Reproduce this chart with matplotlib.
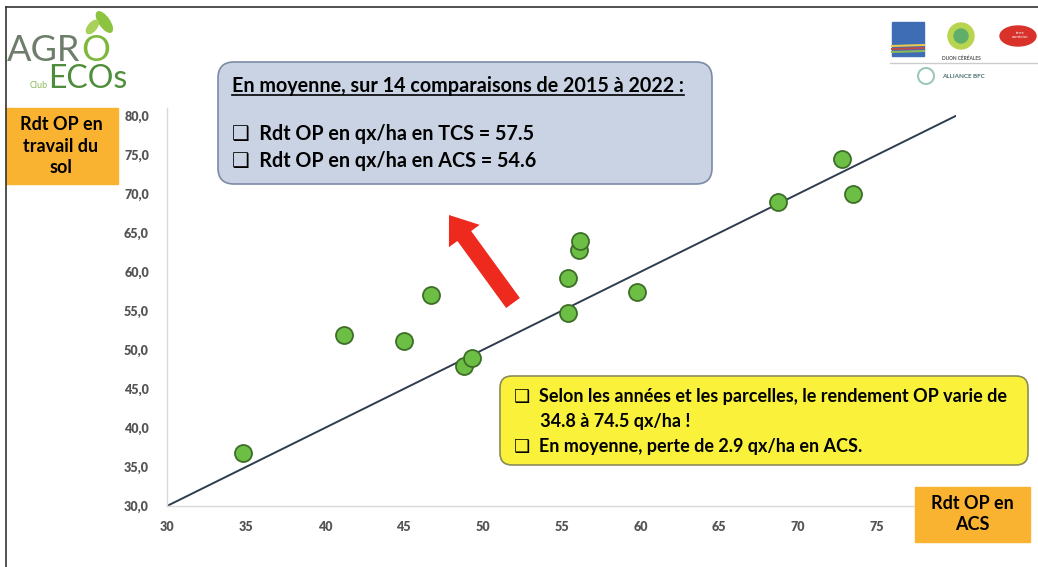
import matplotlib.pyplot as plt
import numpy as np
from matplotlib.patches import FancyBboxPatch, FancyArrow, Ellipse, Circle, Rectangle

plt.rcParams['font.family'] = ['Lato', 'DejaVu Sans']

# Rendement orge de printemps (qx/ha) : ACS en x, travail du sol (TCS) en y
rdt_acs = [34.8, 41.2, 45.0, 46.7, 48.8, 49.3, 55.4, 55.4, 56.1, 56.2, 59.8, 68.7, 72.8, 73.5]
rdt_tcs = [36.8, 51.9, 51.2, 57.0, 47.9, 49.0, 54.7, 59.2, 62.8, 64.0, 57.4, 69.0, 74.5, 70.0]

x_ticks = [30, 35, 40, 45, 50, 55, 60, 65, 70, 75]
y_ticks = [30, 35, 40, 45, 50, 55, 60, 65, 70, 75, 80]
bissectrice = [30, 80]

titre = "En moyenne, sur 14 comparaisons de 2015 à 2022 :"
moyennes = ["❑  Rdt OP en qx/ha en TCS = 57.5",
            "❑  Rdt OP en qx/ha en ACS = 54.6"]
remarques = ["❑  Selon les années et les parcelles, le rendement OP varie de",
             "      34.8 à 74.5 qx/ha !",
             "❑  En moyenne, perte de 2.9 qx/ha en ACS."]

W, H = 1038, 567
fig = plt.figure(figsize=(W / 100, H / 100), dpi=100)

# axe principal
ax = fig.add_axes([167 / W, (H - 506) / H, (956 - 167) / W, (506 - 108) / H])
ax.set_xlim(30, 80)
ax.set_ylim(30, 81)
ax.plot(bissectrice, bissectrice, color='#2E3D4E', lw=1.4, zorder=2)
ax.scatter(rdt_acs, rdt_tcs, s=150, color='#6DBE45', edgecolors='#3D6E28',
           linewidths=1.3, zorder=3)
ax.set_xticks(x_ticks)
ax.set_yticks(y_ticks)
ax.set_xticklabels([str(v) for v in x_ticks])
ax.set_yticklabels([f"{v:.1f}".replace('.', ',') for v in y_ticks])
ax.tick_params(length=0, labelsize=9, labelcolor='#555555')
ax.tick_params(axis='y', pad=13)
ax.tick_params(axis='x', pad=11)
for lab in ax.get_xticklabels() + ax.get_yticklabels():
    lab.set_fontweight('heavy')
for s in ['top', 'right']:
    ax.spines[s].set_visible(False)
for s in ['left', 'bottom']:
    ax.spines[s].set_color('#D9D9D9')
    ax.spines[s].set_linewidth(1.0)

# calque d'annotations en pixels
ov = fig.add_axes([0, 0, 1, 1], zorder=5)
ov.set_xlim(0, W)
ov.set_ylim(H, 0)
ov.axis('off')
ov.patch.set_alpha(0)

# cadre
ov.plot([6, W], [7, 7], color='#333333', lw=1.2)
ov.plot([6, 6], [7, H], color='#333333', lw=1.2)

# logo Club AgroEcos
agr = ov.text(7, 61, "AGR", fontsize=26, color='#6F7E6C', va='baseline')
ov.text(30, 88, "Club", fontsize=6.5, color='#8DBA5B', va='baseline')
ov.text(48, 88, "ECOs", fontsize=23, color='#4E8E3A', va='baseline')

# encadrés
ov.add_patch(FancyBboxPatch((218, 62), 494, 122, boxstyle="round,pad=0,rounding_size=16",
                            fc='#C9D3E3', ec='#7C8AA5', lw=1.2, zorder=1))
t = ov.text(232, 92, titre, fontsize=14.2, fontweight='bold', color='black',
            va='baseline', zorder=2)
for i, line in enumerate(moyennes):
    ov.text(232, 140 + i * 27, line, fontsize=14.2, fontweight='bold', color='black',
            va='baseline', zorder=2)

ov.add_patch(FancyBboxPatch((500, 376), 528, 89, boxstyle="round,pad=0,rounding_size=12",
                            fc='#F9F13A', ec='#8D8B5A', lw=1.2, zorder=1))
for i, line in enumerate(remarques):
    ov.text(514, 402 + i * 25, line, fontsize=13, fontweight='bold', color='black',
            va='baseline', zorder=2)

# étiquettes d'axes
ov.add_patch(Rectangle((6, 108), 112, 76, color='#F9B331'))
ov.text(61, 146, "Rdt OP en\ntravail du\nsol", fontsize=13, fontweight='bold',
        ha='center', va='center', linespacing=1.3)
ov.add_patch(Rectangle((915, 487), 115, 55, color='#F9B331'))
ov.text(972, 514, "Rdt OP en\nACS", fontsize=13, fontweight='bold',
        ha='center', va='center', linespacing=1.3)

# logos partenaires
ov.add_patch(Rectangle((892, 22), 32, 34, color='#3F6DB5'))
for i, c in enumerate(['#E9C94A', '#C04A4A', '#8DB85A']):
    ov.plot([892, 924], [46 + 3 * i, 45 + 3 * i], color=c, lw=1.5)
ov.add_patch(Circle((961, 36), 13, color='#B9D44E'))
ov.add_patch(Circle((961, 36), 7, color='#5FAE6A'))
ov.text(961, 58, "DIJON CÉRÉALES", fontsize=3.5, color='#555555', ha='center', va='center',
        fontweight='bold')
ov.add_patch(Ellipse((1018, 36), 36, 20, color='#D8322B'))
ov.text(1020, 35, "terre\ncomtoise", fontsize=3, color='white', ha='center', va='center')
ov.plot([890, W], [63, 63], color='#CCCCCC', lw=1)
ov.add_patch(Circle((926, 76), 8, fill=False, ec='#9CC9B8', lw=1.5))
ov.text(942, 77, "ALLIANCE BFC", fontsize=4.5, color='#4A6F6F', va='center', fontweight='bold')

# flèche
ov.add_patch(FancyArrow(513, 303, -64, -88, width=17, head_width=38, head_length=26,
                        length_includes_head=True, color='#EE2A1E', lw=0))

# soulignement du titre, "O" du logo placé après "AGR"
fig.canvas.draw()
inv = ov.transData.inverted()
bb = t.get_window_extent().transformed(inv)
ov.plot([bb.x0, bb.x1], [95, 95], color='black', lw=1.2, zorder=2)
ba = agr.get_window_extent().transformed(inv)
ov.text(ba.x1 + 1, 61, "O", fontsize=26, color='#7DB83A', va='baseline')
ox = ba.x1 + 16
ov.add_patch(Ellipse((ox + 8, 22), 10, 24, angle=-35, color='#8CC43F'))
ov.add_patch(Ellipse((ox - 4, 27), 8, 16, angle=40, color='#A9D159'))

fig.savefig('out.png', dpi=100)
